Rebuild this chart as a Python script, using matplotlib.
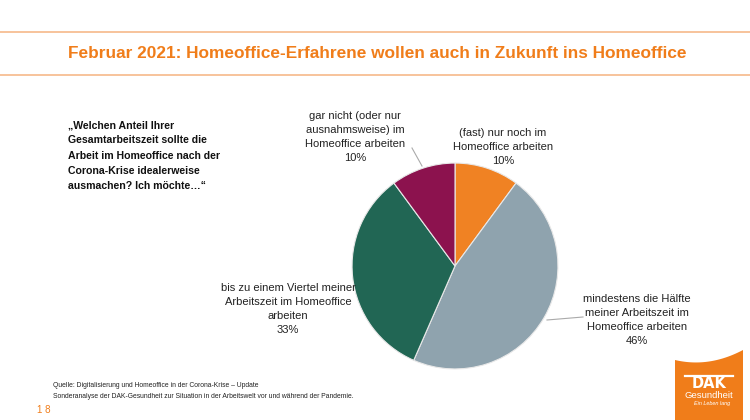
import matplotlib
matplotlib.use("Agg")
import matplotlib.pyplot as plt
from matplotlib.lines import Line2D
from matplotlib.patches import Polygon
import numpy as np

# Daten
kategorien = [
    "(fast) nur noch im\nHomeoffice arbeiten",
    "mindestens die Hälfte\nmeiner Arbeitszeit im\nHomeoffice arbeiten",
    "bis zu einem Viertel meiner\nArbeitszeit im Homeoffice\narbeiten",
    "gar nicht (oder nur\nausnahmsweise) im\nHomeoffice arbeiten",
]
anteile = [10, 46, 33, 10]
farben = ["#F08223", "#8FA3AE", "#216654", "#8C124E"]

titel = "Februar 2021: Homeoffice-Erfahrene wollen auch in Zukunft ins Homeoffice"
frage = ("„Welchen Anteil Ihrer\nGesamtarbeitszeit sollte die\nArbeit im Homeoffice nach der\n"
         "Corona-Krise idealerweise\nausmachen? Ich möchte…“")
quelle = ("Quelle: Digitalisierung und Homeoffice in der Corona-Krise – Update\n"
          "Sonderanalyse der DAK-Gesundheit zur Situation in der Arbeitswelt vor und während der Pandemie.")

W, H = 750, 420
ORANGE = "#F07D1A"
plt.rcParams["font.family"] = ["Liberation Sans Narrow", "Liberation Sans", "DejaVu Sans"]


def px(x, y):
    # Pixel (von oben links) -> Figure-Koordinaten
    return x / W, 1 - y / H


fig = plt.figure(figsize=(W / 100, H / 100), dpi=100)

# Linien oben
for yy in (32, 75):
    fig.add_artist(Line2D([0, 1], [px(0, yy)[1]] * 2, transform=fig.transFigure,
                          color="#F6B98A", lw=1.2))
fig.text(*px(377, 54), titel, ha="center", va="center", fontsize=12.4,
         fontweight="bold", color=ORANGE)

# Frage links
fig.text(*px(68, 120), frage, ha="left", va="top", fontsize=7.6, fontweight="bold",
         color="#111111", linespacing=1.66)

# Kreisdiagramm
cx, cy, r = 455, 266, 105
ax = fig.add_axes([(cx - r) / W, (H - cy - r) / H, 2 * r / W, 2 * r / H])
ax.pie(anteile, colors=farben, startangle=90, counterclock=False, radius=1,
       wedgeprops=dict(edgecolor="#E8E8E8", linewidth=0.8))
ax.set_xlim(-1.02, 1.02)
ax.set_ylim(-1.02, 1.02)
ax.set_aspect("equal")
ax.axis("off")

# Beschriftungen
label_pos = [(503, 128), (637, 294), (288, 283), (355, 111)]
for txt, wert, (lx, ly) in zip(kategorien, anteile, label_pos):
    fig.text(*px(lx, ly), f"{txt}\n{wert}%", ha="center", va="top", fontsize=8.0,
             color="#222222", linespacing=1.48)

# Führungslinien
for (x0, y0), (x1, y1) in [((412, 148), (422, 166)), ((547, 320), (583, 317))]:
    a, b = px(x0, y0)
    c, d = px(x1, y1)
    fig.add_artist(Line2D([a, c], [b, d], transform=fig.transFigure, color="#AAAAAA", lw=0.8))

# Quelle
fig.text(*px(53, 382), quelle, ha="left", va="top", fontsize=4.85, color="#222222",
         linespacing=1.9)
fig.text(*px(37, 410), "1 8", ha="left", va="center", fontsize=7, color=ORANGE)

# Logo
t = np.linspace(0, 1, 40)
xs = 675 + 68 * t
ys = 360 + 16 * t - 26 * t ** 2
oben = [px(x, y) for x, y in zip(xs, ys)]
poly = oben + [px(743, 420), px(675, 420)]
fig.add_artist(Polygon(poly, closed=True, transform=fig.transFigure, color=ORANGE, lw=0))
fig.add_artist(Line2D([px(685, 0)[0], px(733, 0)[0]], [px(0, 375.5)[1]] * 2,
                      transform=fig.transFigure, color="white", lw=1.6))
fig.text(*px(709, 383.5), "DAK", ha="center", va="center", fontsize=10.5, fontweight="bold",
         color="white", family=["DejaVu Sans"])
fig.text(*px(709, 395.5), "Gesundheit", ha="center", va="center", fontsize=6.8, color="white")
fig.text(*px(712, 403.5), "Ein Leben lang", ha="center", va="center", fontsize=4.0,
         color="white", style="italic")

fig.savefig("out.png", dpi=100)
